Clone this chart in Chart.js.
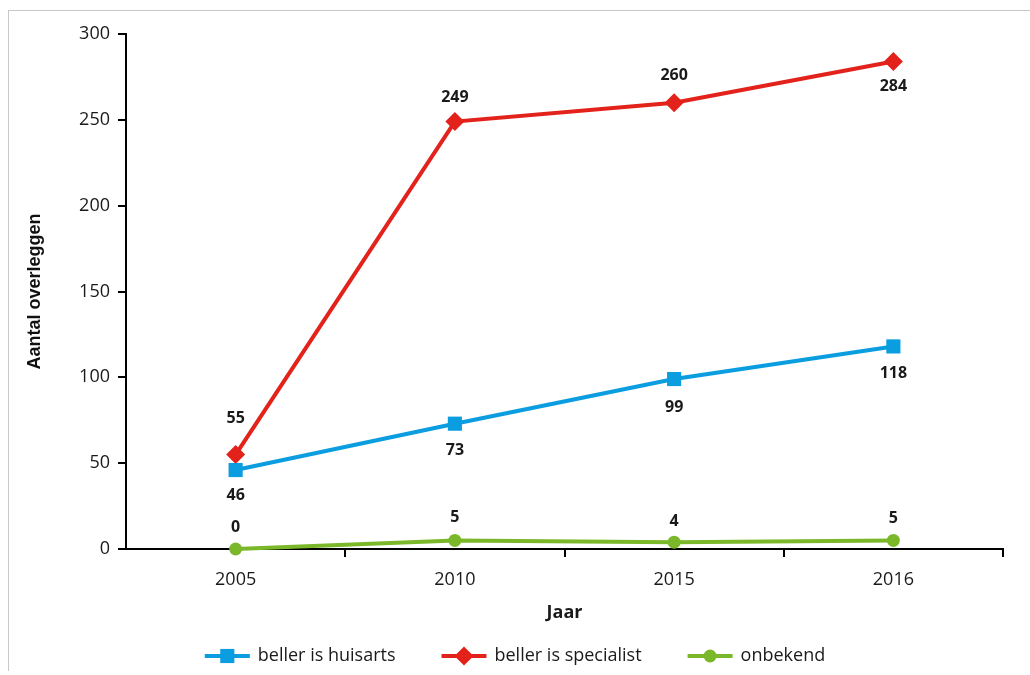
<!DOCTYPE html>
<html>
<head>
<meta charset="utf-8">
<script src="https://cdn.jsdelivr.net/npm/chart.js@4/dist/chart.umd.min.js"></script>
<style>
  html, body { margin: 0; padding: 0; background: #fff; overflow: hidden; }
  #wrap { position: relative; width: 1030px; height: 675px; }
  #frame { position: absolute; left: 8px; top: 10px; width: 1100px; height: 660px;
           border-left: 1px solid #c8c8c8; border-top: 1px solid #c8c8c8; }
  #chart { position: absolute; left: 0; top: 0; }
</style>
</head>
<body>
<div id="wrap">
  <div id="frame"></div>
  <canvas id="chart" width="1030" height="675"></canvas>
</div>
<script>
// Aantal overleggen per jaar, naar wie er belt
const years = ['2005', '2010', '2015', '2016'];
const huisarts = [46, 73, 99, 118];
const specialist = [55, 249, 260, 284];
const onbekend = [0, 5, 4, 5];
const seriesNames = ['beller is huisarts', 'beller is specialist', 'onbekend'];
const yTicks = [0, 50, 100, 150, 200, 250, 300];

// where each value label sits relative to its point (px, negative = above)
const huisartsLabelShift = [25, 27, 28, 27];
const specialistLabelShift = [-36, -24, -27, 25];
const onbekendLabelShift = [-22, -23, -21, -22];

const BLUE = '#0a9de0';
const RED = '#e3221b';
const GREEN = '#7ab829';
const INK = '#1a1a1a';
const FONT = '"Open Sans", "Noto Sans", sans-serif';

function drawMarker(ctx, style, x, y, r, color) {
  ctx.save();
  ctx.fillStyle = color;
  ctx.beginPath();
  if (style === 'rect') {
    const s = r * Math.SQRT1_2;
    ctx.rect(x - s, y - s, 2 * s, 2 * s);
  } else if (style === 'rectRot') {
    ctx.moveTo(x - r, y);
    ctx.lineTo(x, y - r);
    ctx.lineTo(x + r, y);
    ctx.lineTo(x, y + r);
    ctx.closePath();
  } else {
    ctx.arc(x, y, r, 0, Math.PI * 2);
  }
  ctx.fill();
  ctx.restore();
}

// value labels next to every point
const valueLabels = {
  id: 'valueLabels',
  afterDatasetsDraw(chart) {
    const ctx = chart.ctx;
    ctx.save();
    ctx.font = 'bold 16px ' + FONT;
    ctx.fillStyle = INK;
    ctx.textAlign = 'center';
    ctx.textBaseline = 'middle';
    chart.data.datasets.forEach((ds, i) => {
      const meta = chart.getDatasetMeta(i);
      meta.data.forEach((pt, j) => {
        ctx.fillText(String(ds.data[j]), pt.x, pt.y + ds.labelShift[j]);
      });
    });
    ctx.restore();
  }
};

// legend with a short line and the marker on top of it
const lineLegend = {
  id: 'lineLegend',
  afterDraw(chart) {
    const ctx = chart.ctx;
    const y = 656;
    const lineW = 45, textGap = 8, itemGap = 46;
    ctx.save();
    ctx.font = '18px ' + FONT;
    const items = chart.data.datasets.map(ds => ({
      ds, w: lineW + textGap + ctx.measureText(ds.label).width
    }));
    const total = items.reduce((s, it) => s + it.w, 0) + itemGap * (items.length - 1);
    let x = (chart.width - total) / 2;
    items.forEach(({ ds, w }) => {
      ctx.strokeStyle = ds.borderColor;
      ctx.lineWidth = ds.borderWidth;
      ctx.beginPath();
      ctx.moveTo(x, y);
      ctx.lineTo(x + lineW, y);
      ctx.stroke();
      drawMarker(ctx, ds.pointStyle, x + lineW / 2, y, ds.pointRadius, ds.borderColor);
      ctx.fillStyle = INK;
      ctx.textAlign = 'left';
      ctx.textBaseline = 'middle';
      ctx.fillText(ds.label, x + lineW + textGap, y);
      x += w + itemGap;
    });
    ctx.restore();
  }
};

function series(label, data, color, style, radius, shift) {
  return {
    label, data,
    borderColor: color,
    backgroundColor: color,
    pointBackgroundColor: color,
    pointBorderColor: color,
    borderWidth: 4,
    pointStyle: style,
    pointRadius: radius,
    pointHoverRadius: radius,
    pointBorderWidth: 0,
    tension: 0,
    clip: false,
    labelShift: shift
  };
}

new Chart(document.getElementById('chart'), {
  type: 'line',
  data: {
    labels: years,
    datasets: [
      series(seriesNames[0], huisarts, BLUE, 'rect', 10, huisartsLabelShift),
      series(seriesNames[1], specialist, RED, 'rectRot', 9.5, specialistLabelShift),
      series(seriesNames[2], onbekend, GREEN, 'circle', 6.5, onbekendLabelShift)
    ]
  },
  options: {
    responsive: false,
    animation: false,
    layout: { padding: { top: 34, right: 27, bottom: 50, left: 0 } },
    plugins: {
      legend: { display: false },
      tooltip: { enabled: false }
    },
    scales: {
      x: {
        offset: true,
        afterFit(scale) { scale.height = 76; },
        border: { color: '#000', width: 2 },
        grid: {
          offset: true,
          drawOnChartArea: false,
          tickLength: 8,
          lineWidth: 2,
          color: ctx => ctx.index === 0 ? 'rgba(0,0,0,0)' : '#000'
        },
        ticks: { color: INK, padding: 12, font: { family: FONT, size: 18 } },
        title: {
          display: true,
          text: 'Jaar',
          color: INK,
          padding: { top: 0, bottom: 1 },
          font: { family: FONT, size: 18, weight: 'bold' }
        }
      },
      y: {
        min: yTicks[0],
        max: yTicks[yTicks.length - 1],
        afterFit(scale) { scale.width = 126; },
        afterBuildTicks(scale) { scale.ticks = yTicks.map(v => ({ value: v })); },
        border: { color: '#000', width: 2 },
        grid: { drawOnChartArea: false, tickLength: 8, lineWidth: 2, color: '#000' },
        ticks: { color: INK, padding: 8, font: { family: FONT, size: 18 } },
        title: {
          display: true,
          text: 'Aantal overleggen',
          color: '#111',
          padding: { top: 24, bottom: 0 },
          font: { family: '"Liberation Sans", Arial, sans-serif', size: 18, weight: 'bold' }
        }
      }
    }
  },
  plugins: [valueLabels, lineLegend]
});
</script>
</body>
</html>
